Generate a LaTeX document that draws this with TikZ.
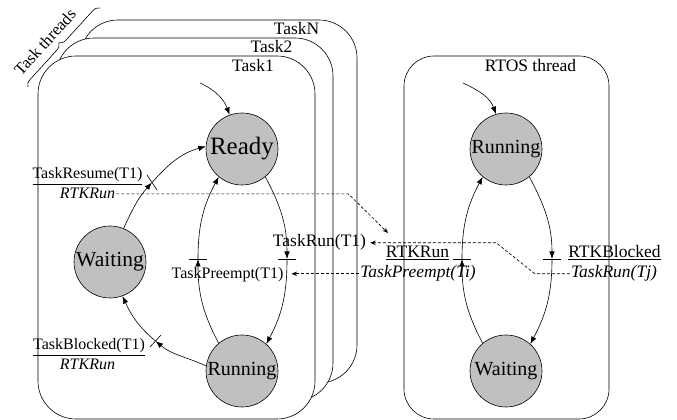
\documentclass[tikz,border=0pt]{standalone}
\usepackage{fontspec}
\setmainfont{Liberation Serif}
\usetikzlibrary{arrows.meta,decorations.pathreplacing,calc}
\definecolor{stategray}{RGB}{192,192,192}
\tikzset{
  place/.style={circle, draw, line width=0.6pt, fill=stategray, minimum size=72pt, inner sep=0pt, font=\fontsize{20}{24}\selectfont},
  arc/.style={-{Latex[length=7.5pt,width=5.5pt]}, line width=0.6pt},
  dashconn/.style={dash pattern=on 3pt off 2pt, line width=0.65pt, -{Stealth[length=5.5pt,width=4.5pt]}},
  taskbox/.style={draw, rounded corners=38pt, fill=white, line width=0.6pt},
  lblA/.style={anchor=base, inner sep=1pt, font=\fontsize{16}{19}\selectfont},
  lblAi/.style={anchor=base, inner sep=1pt, font=\fontsize{16}{19}\selectfont\itshape},
  lblB/.style={anchor=base, inner sep=1pt, font=\fontsize{17.5}{21}\selectfont},
  lblBi/.style={anchor=base, inner sep=1pt, font=\fontsize{17.5}{21}\selectfont\itshape},
  tbar/.style={line width=0.6pt}
}
\begin{document}
\begin{tikzpicture}[x=1pt,y=1pt]
\useasboundingbox (0,0) rectangle (677,420);
% thread boxes
\draw[taskbox] (80,37) rectangle (357,400);
\draw[taskbox] (56,19) rectangle (333,382);
\draw[taskbox] (38,1) rectangle (315,364);
\draw[taskbox, rounded corners=30pt] (404,1) rectangle (609,364);
\node[lblB] (lTaskN) at (296.5,385) {TaskN};
\node[lblB] (lTask2) at (271.5,367) {Task2};
\node[lblB] (lTask1) at (253,348) {Task1};
\node[lblB] (lRTOS) at (530.5,348) {RTOS thread};
% brace
\draw[decorate, decoration={brace, amplitude=7pt}, line width=0.6pt] (28,333) -- (100,412);
\node[rotate=47.7, inner sep=0pt, font=\fontsize{16.5}{20}\selectfont] (lThreads) at (45,378) {Task threads};
% places
\node[place, font=\fontsize{25}{30}\selectfont] (Ready) at (242,271) {Ready};
\node[place, font=\fontsize{21.5}{26}\selectfont] (TWait) at (110,158) {Waiting};
\node[place] (TRun) at (242,49) {Running};
\node[place] (RRun) at (506,271) {Running};
\node[place] (RWait) at (506,49) {Waiting};
% start points
\coordinate (s1) at (200,337);
\coordinate (s2) at (463,337);
\draw[arc] (s1) to[out=-25,in=110] (Ready.110);
\draw[arc] (s2) to[out=-25,in=110] (RRun.106);
% transition bars
\coordinate (bRes) at (152,237.5);
\coordinate (bBlk) at (155.5,79);
\coordinate (bTRun) at (287,161);
\coordinate (bTPre) at (198,161);
\coordinate (bRBlk) at (552,161);
\coordinate (bRRun) at (462,161);
\draw[tbar] ($(bRes)+(-5,7.5)$) -- ($(bRes)+(5,-7.5)$);
\draw[tbar] ($(bBlk)+(-5.5,-6)$) -- ($(bBlk)+(5.5,6)$);
\draw[tbar] ([xshift=-9pt]bTRun) -- ([xshift=9pt]bTRun);
\draw[tbar] ([xshift=-9pt]bTPre) -- ([xshift=9pt]bTPre);
\draw[tbar] ([xshift=-9pt]bRBlk) -- ([xshift=9pt]bRBlk);
\draw[tbar] ([xshift=-9pt]bRRun) -- ([xshift=9pt]bRRun);
% task arcs
\draw[arc] (TWait.68) to[out=65,in=-132] (bRes);
\draw[arc] (bRes) to[out=48,in=195] (Ready.176);
\draw[arc] (TRun.172) to[out=155,in=-40] (bBlk);
\draw[arc] (bBlk) to[out=140,in=-65] (TWait.-70);
\draw[arc] (Ready.-50) to[out=-62,in=90] (bTRun);
\draw[arc] (bTRun) to[out=-90,in=62] (TRun.48);
\draw[arc] (TRun.130) to[out=118,in=-90] (bTPre);
\draw[arc] (bTPre) to[out=90,in=-118] (Ready.230);
% RTOS arcs
\draw[arc] (RRun.-50) to[out=-62,in=90] (bRBlk);
\draw[arc] (bRBlk) to[out=-90,in=62] (RWait.48);
\draw[arc] (RWait.130) to[out=118,in=-90] (bRRun);
\draw[arc] (bRRun) to[out=90,in=-118] (RRun.230);
% labels
\node[lblA] (lRes) at (87.5,241) {\underline{TaskResume(T1)}};
\node[lblAi] (lRes2) at (87.5,221) {RTKRun};
\node[lblA] (lBlk) at (89,70) {\underline{TaskBlocked(T1)}};
\node[lblAi] (lBlk2) at (87.5,50) {RTKRun};
\node[lblB] (lTRun) at (319.5,173) {TaskRun(T1)};
\node[lblA] (lTPre) at (227.5,141) {TaskPreempt(T1)};
\node[lblB] (lRRunU) at (417.5,162) {\underline{RTKRun}};
\node[lblBi] (lRPre) at (418,142) {TaskPreempt(Ti)};
\node[lblB] (lRBlk) at (614.5,162) {\underline{RTKBlocked}};
\node[lblBi] (lRTj) at (614,142) {TaskRun(Tj)};
% dashed links
\coordinate (d1end) at (388,187);
\draw[dashconn] (lRes2.east) -- ++(232,0) -- (d1end);
\draw[dashconn] (lRTj.west) -- ++(-35,0) -- ($(lTRun.east)+(129,0)$) -- ($(lTRun.east)+(3,0)$);
\draw[dashconn] (lRPre.west) -- ($(lRPre.west -| lTPre.east)+(7,0)$);
\end{tikzpicture}
\end{document}
